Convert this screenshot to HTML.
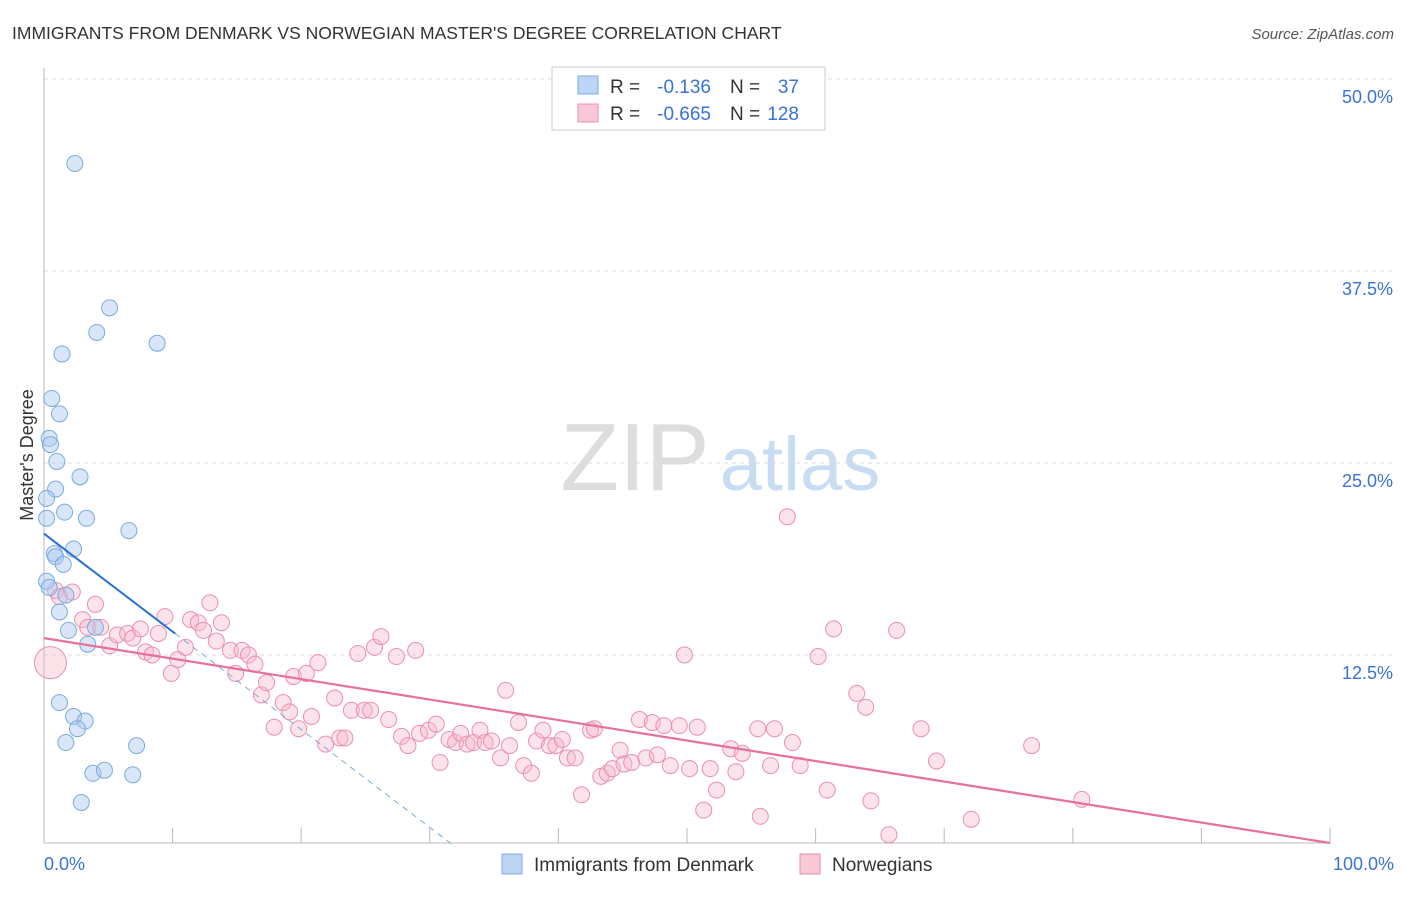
<!DOCTYPE html>
<html><head><meta charset="utf-8"><style>
body{margin:0;background:#fff;font-family:"Liberation Sans",sans-serif}
svg text{font-family:"Liberation Sans",sans-serif}
</style></head><body>
<svg id="chart" width="1406" height="892">
<text x="12" y="39" font-size="17.5" fill="#333">IMMIGRANTS FROM DENMARK VS NORWEGIAN MASTER'S DEGREE CORRELATION CHART</text>
<text x="1394" y="39" font-size="15" fill="#555" font-style="italic" text-anchor="end">Source: ZipAtlas.com</text>
<g>
<text x="635" y="490" font-size="96" fill="#ddd" font-family="Liberation Serif" text-anchor="middle">ZIP</text>
<text x="800" y="490" font-size="76" fill="#c8dcf2" text-anchor="middle">atlas</text>
</g>
<g id="grid"></g>
<g id="axes"></g>
<g id="marks"></g>
<text transform="translate(33,455) rotate(-90)" font-size="18" fill="#333" text-anchor="middle">Master's Degree</text>
<g>
<rect x="552" y="67" width="273" height="63" fill="#fff" stroke="#ccc"/>
<rect x="578" y="76" width="20" height="18" fill="#bcd5f5" stroke="#7aaae0"/>
<text x="610" y="93" font-size="19" fill="#333">R =</text>
<text x="711" y="93" font-size="19" fill="#3a72d8" text-anchor="end">-0.136</text>
<text x="730" y="93" font-size="19" fill="#333">N =</text>
<text x="799" y="93" font-size="19" fill="#3a72d8" text-anchor="end">37</text>
<rect x="578" y="104" width="20" height="18" fill="#f9c8d7" stroke="#ec8fad"/>
<text x="610" y="120" font-size="19" fill="#333">R =</text>
<text x="711" y="120" font-size="19" fill="#3a72d8" text-anchor="end">-0.665</text>
<text x="730" y="120" font-size="19" fill="#333">N =</text>
<text x="799" y="120" font-size="19" fill="#3a72d8" text-anchor="end">128</text>
</g>
<g>
<rect x="502" y="854" width="20" height="20" fill="#bcd5f5" stroke="#7aaae0"/>
<text x="534" y="871" font-size="19" fill="#333">Immigrants from Denmark</text>
<rect x="800" y="854" width="20" height="20" fill="#f9c8d7" stroke="#ec8fad"/>
<text x="832" y="871" font-size="19" fill="#333">Norwegians</text>
</g>
</svg>
<script>
const yTicks=[12.5,25,37.5,50];
const yTickLabels=["12.5%","25.0%","37.5%","50.0%"];
const xEndLabels=["0.0%","100.0%"];
const blueX=[2.4,5.1,4.1,1.4,8.8,0.6,1.2,0.4,0.5,1.0,2.8,0.9,0.2,1.6,3.3,0.2,6.6,2.3,0.8,0.9,1.5,0.2,0.4,1.7,1.2,4.0,1.9,3.4,1.2,2.3,3.2,2.6,1.7,7.2,3.8,4.7,6.9,2.9];
const blueY=[44.5,35.1,33.5,32.1,32.8,29.2,28.2,26.6,26.2,25.1,24.1,23.3,22.7,21.8,21.4,21.4,20.6,19.4,19.1,18.9,18.4,17.3,16.9,16.4,15.3,14.3,14.1,13.2,9.4,8.5,8.2,7.7,6.8,6.6,4.8,5.0,4.7,2.9];
const pinkX=[57.8,0.9,1.2,2.2,4.0,3.0,3.4,4.4,5.1,5.7,6.5,6.9,7.5,7.9,8.4,8.9,9.4,9.9,10.4,11.0,11.4,12.0,12.4,12.9,13.4,13.8,14.5,14.9,15.4,15.9,16.4,16.9,17.3,17.9,18.6,19.1,19.8,19.4,20.4,20.8,21.3,21.9,22.6,23.0,23.4,23.9,24.4,24.9,25.4,25.7,26.2,26.8,27.4,27.8,28.3,28.9,29.2,29.9,30.5,30.8,31.5,32.0,32.4,32.9,33.4,33.9,34.3,34.8,35.5,35.9,36.2,36.9,37.3,37.9,38.3,38.8,39.3,39.8,40.3,40.7,41.3,41.8,42.5,42.8,43.3,43.8,44.2,44.8,45.1,45.7,46.3,46.8,47.3,47.7,48.2,48.7,49.4,49.8,50.2,50.8,51.3,51.8,52.3,53.4,53.8,54.3,55.5,55.7,56.5,56.8,58.2,58.8,60.2,60.9,61.4,63.2,63.9,64.3,65.7,66.3,68.2,69.4,72.1,76.8,80.7];
const pinkY=[21.5,16.7,16.3,16.6,15.8,14.8,14.3,14.3,13.1,13.8,13.9,13.6,14.2,12.7,12.5,13.9,15.0,11.3,12.2,13.0,14.8,14.6,14.1,15.9,13.4,14.6,12.8,11.3,12.8,12.5,11.9,9.9,10.7,7.8,9.4,8.8,7.7,11.1,11.3,8.5,12.0,6.7,9.7,7.1,7.1,8.9,12.6,8.9,8.9,13.0,13.7,8.3,12.4,7.2,6.6,12.8,7.4,7.6,8.0,5.5,7.0,6.8,7.4,6.7,6.8,7.6,6.8,6.9,5.8,10.2,6.6,8.1,5.3,4.8,6.9,7.6,6.6,6.6,7.0,5.8,5.8,3.4,7.6,7.7,4.6,4.8,5.1,6.3,5.4,5.5,8.3,5.8,8.1,6.0,7.9,5.3,7.9,12.5,5.1,7.8,2.4,5.1,3.7,6.4,4.9,6.1,7.7,2.0,5.3,7.7,6.8,5.3,12.4,3.7,14.2,10.0,9.1,3.0,0.8,14.1,7.7,5.6,1.8,6.6,3.1];
const blueTrend=[20.4,0.0]; // value at x=0, x-intercept
const blueSolidEnd=10.2;
const pinkTrend=[13.6,0.26]; // at x=0 and x=100
const NS="http://www.w3.org/2000/svg";
const sx=v=>44+v*12.86, sy=v=>847-v*15.36;
function mk(tag,attrs,parent){const e=document.createElementNS(NS,tag);for(const k in attrs)e.setAttribute(k,attrs[k]);parent.appendChild(e);return e;}
const grid=document.getElementById('grid'),axes=document.getElementById('axes'),marks=document.getElementById('marks');
yTicks.forEach((t,i)=>{
 const l=mk('line',{x1:44,x2:1394,y1:sy(t),y2:sy(t),stroke:'#ddd','stroke-dasharray':'4,4'},grid);
 
 
 const tx=mk('text',{x:1393,y:sy(t)+24,'font-size':18,fill:'#3a72d8','text-anchor':'end'},axes);
 tx.textContent=yTickLabels[i];
 
 
});
const ax=mk('line',{x1:44,x2:1330,y1:843,y2:843,stroke:'#bbb'},axes);


const ay=mk('line',{x1:44,x2:44,y1:68,y2:843,stroke:'#bbb'},axes);


for(let i=1;i<=10;i++){const t=mk('line',{x1:sx(i*10),x2:sx(i*10),y1:828,y2:843,stroke:'#bbb'},axes);
 
 }
const xl0=mk('text',{x:44,y:870,'font-size':18,fill:'#3a72d8'},axes);xl0.textContent=xEndLabels[0];


const xl1=mk('text',{x:1394,y:870,'font-size':18,fill:'#3a72d8','text-anchor':'end'},axes);xl1.textContent=xEndLabels[1];


pinkX.forEach((x,i)=>{const c=mk('circle',{cx:sx(x),cy:sy(pinkY[i]),r:8,fill:'#f5b8cb','fill-opacity':0.4,stroke:'#ec8fad','stroke-width':1},marks);
 
 });
const big=mk('circle',{cx:sx(0.5),cy:sy(12.0),r:16,fill:'#f5b8cb','fill-opacity':0.4,stroke:'#ec8fad'},marks);


blueX.forEach((x,i)=>{const c=mk('circle',{cx:sx(x),cy:sy(blueY[i]),r:8,fill:'#a8c8f0','fill-opacity':0.45,stroke:'#7aaae0','stroke-width':1},marks);
 
 });
const slope=-blueTrend[0]/32;
const bt=mk('line',{x1:sx(0),y1:sy(blueTrend[0]),x2:sx(blueSolidEnd),y2:sy(blueTrend[0]+slope*blueSolidEnd),stroke:'#2a6fd6','stroke-width':2},marks);


const bd=mk('line',{x1:sx(blueSolidEnd),y1:sy(blueTrend[0]+slope*blueSolidEnd),x2:sx(32),y2:sy(blueTrend[1]),stroke:'#7aaae0','stroke-width':1,'stroke-dasharray':'6,5'},marks);


const pt=mk('line',{x1:sx(0),y1:sy(pinkTrend[0]),x2:sx(100),y2:sy(pinkTrend[1]),stroke:'#e8709a','stroke-width':2.2},marks);


</script>
</body></html>
